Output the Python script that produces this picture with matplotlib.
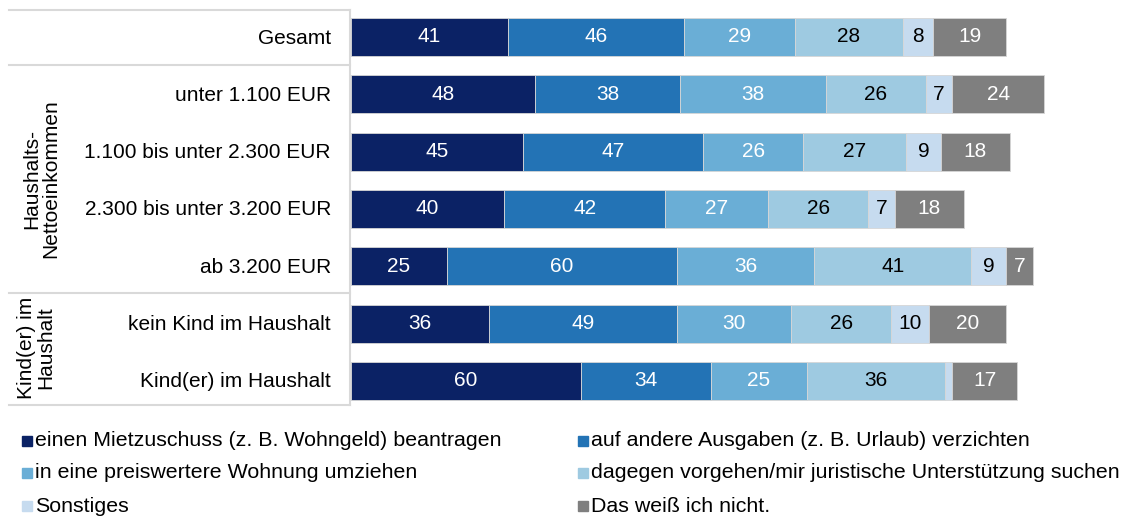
import numpy as np
import matplotlib.pyplot as plt
from matplotlib.lines import Line2D

plt.rcParams['font.family'] = ['Liberation Sans', 'DejaVu Sans']

# Daten
kategorien = ['Gesamt', 'unter 1.100 EUR', '1.100 bis unter 2.300 EUR',
              '2.300 bis unter 3.200 EUR', 'ab 3.200 EUR',
              'kein Kind im Haushalt', 'Kind(er) im Haushalt']
mietzuschuss = [41, 48, 45, 40, 25, 36, 60]
verzichten = [46, 38, 47, 42, 60, 49, 34]
umziehen = [29, 38, 26, 27, 36, 30, 25]
vorgehen = [28, 26, 27, 26, 41, 26, 36]
sonstiges = [8, 7, 9, 7, 9, 10, 2]
weiss_nicht = [19, 24, 18, 18, 7, 20, 17]

serien_namen = ['einen Mietzuschuss (z. B. Wohngeld) beantragen',
                'auf andere Ausgaben (z. B. Urlaub) verzichten',
                'in eine preiswertere Wohnung umziehen',
                'dagegen vorgehen/mir juristische Unterstützung suchen',
                'Sonstiges',
                'Das weiß ich nicht.']
farben = ['#0b2265', '#2373b5', '#6aaed6', '#9ecae1', '#c6dbef', '#7f7f7f']
textfarben = ['white', 'white', 'white', 'black', 'black', 'white']

serien = [mietzuschuss, verzichten, umziehen, vorgehen, sonstiges, weiss_nicht]

fs = 15
fig = plt.figure(figsize=(11.22, 5.2), dpi=100)
W, H = 1122, 520
ax = fig.add_axes([351 / W, 1 - 405 / H, 1 - 351 / W, 395 / H])

y = np.arange(len(kategorien))
links = np.zeros(len(kategorien))
for werte, farbe, tf in zip(serien, farben, textfarben):
    bars = ax.barh(y, werte, left=links, height=0.66, color=farbe,
                   edgecolor='#d6d6d6', linewidth=0.6)
    for b, v in zip(bars, werte):
        if v >= 5:
            ax.text(b.get_x() + b.get_width() / 2, b.get_y() + b.get_height() / 2,
                    str(v), ha='center', va='center', color=tf, fontsize=fs)
    links += np.array(werte)

ax.set_xlim(0, (W - 351) / 3.83)
ax.set_ylim(6.42, -0.47)
ax.axis('off')

# Beschriftungen links (Tabelle)
for i, k in enumerate(kategorien):
    ypx = 38 + i * 57.3
    fig.text(331 / W, 1 - ypx / H, k, ha='right', va='center', fontsize=fs)

fig.text(41 / W, 1 - 179 / H, 'Haushalts-\nNettoeinkommen', rotation=90,
         ha='center', va='center', fontsize=fs, linespacing=1.0)
fig.text(36 / W, 1 - 348 / H, 'Kind(er) im\nHaushalt', rotation=90,
         ha='center', va='center', fontsize=fs, linespacing=1.0)

linie = '#d9d9d9'
for ypx in [10, 65, 293, 405]:
    fig.add_artist(Line2D([9 / W, 350 / W], [1 - ypx / H, 1 - ypx / H],
                          color=linie, lw=1.5))
fig.add_artist(Line2D([350 / W, 350 / W], [1 - 10 / H, 1 - 405 / H],
                      color=linie, lw=1.5))

# Legende
leg_pos = [(22, 441), (578, 441), (22, 473), (578, 473), (22, 506), (578, 506)]
for (xp, yp), name, farbe in zip(leg_pos, serien_namen, farben):
    fig.patches.append(plt.Rectangle((xp / W, 1 - (yp + 5) / H), 10 / W, 10 / H,
                                     transform=fig.transFigure, color=farbe))
    fig.text((xp + 13) / W, 1 - yp / H, name, ha='left', va='center',
             fontsize=15.4)

fig.savefig('out.png', dpi=100)
